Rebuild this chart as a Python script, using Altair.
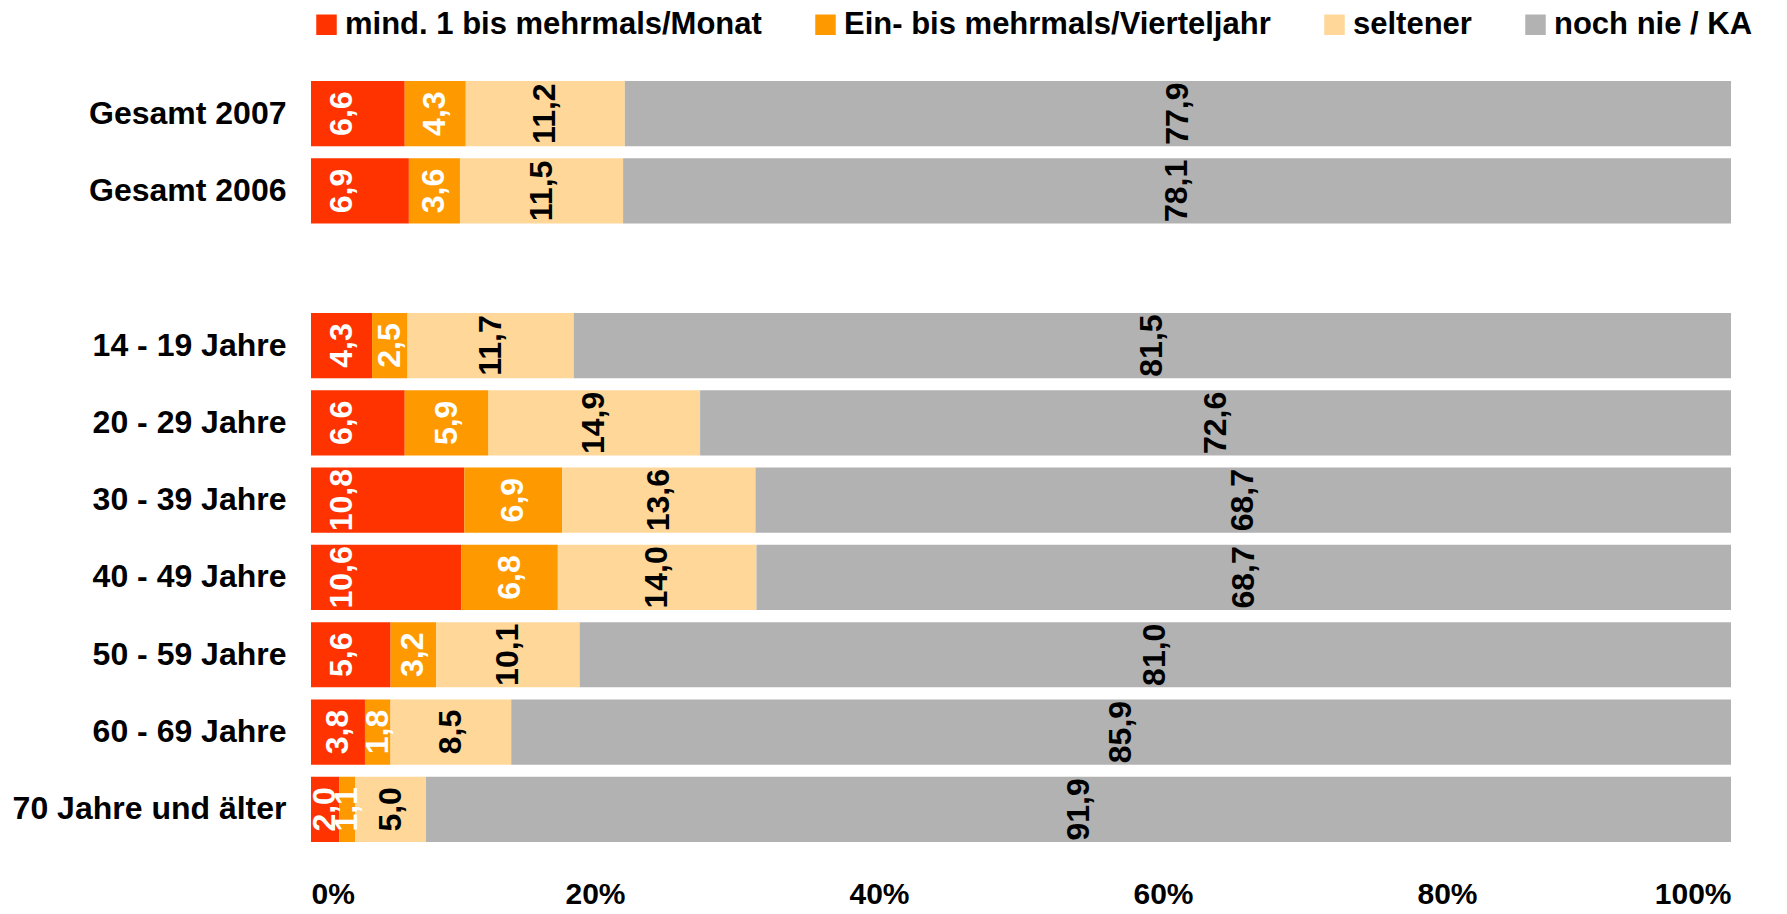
import altair as alt
import pandas as pd

categories = ["Gesamt 2007", "Gesamt 2006", " ", "14 - 19 Jahre", "20 - 29 Jahre",
              "30 - 39 Jahre", "40 - 49 Jahre", "50 - 59 Jahre", "60 - 69 Jahre",
              "70 Jahre und älter"]
rows = ["Gesamt 2007", "Gesamt 2006", "14 - 19 Jahre", "20 - 29 Jahre",
        "30 - 39 Jahre", "40 - 49 Jahre", "50 - 59 Jahre", "60 - 69 Jahre",
        "70 Jahre und älter"]
series = ["mind. 1 bis mehrmals/Monat", "Ein- bis mehrmals/Vierteljahr",
          "seltener", "noch nie / KA"]
monat = [6.6, 6.9, 4.3, 6.6, 10.8, 10.6, 5.6, 3.8, 2.0]
viertel = [4.3, 3.6, 2.5, 5.9, 6.9, 6.8, 3.2, 1.8, 1.1]
seltener = [11.2, 11.5, 11.7, 14.9, 13.6, 14.0, 10.1, 8.5, 5.0]
nie = [77.9, 78.1, 81.5, 72.6, 68.7, 68.7, 81.0, 85.9, 91.9]
colors = ["#FF3300", "#FF9900", "#FFD899", "#B2B2B2"]
text_colors = ["white", "white", "black", "black"]

recs = []
for i, r in enumerate(rows):
    for j, vals in enumerate([monat, viertel, seltener, nie]):
        recs.append({"cat": r, "series": series[j], "ord": j, "v": vals[i],
                     "tc": text_colors[j]})
df = pd.DataFrame(recs)

FONT = "Liberation Sans, Arial, sans-serif"

base = alt.Chart(df).transform_joinaggregate(
    total="sum(v)", groupby=["cat"]
).transform_stack(
    stack="v", groupby=["cat"], sort=[alt.SortField("ord", order="ascending")],
    as_=["s0", "s1"]
).transform_calculate(
    x0="datum.s0 / datum.total * 100",
    x1="datum.s1 / datum.total * 100",
    mid="(datum.s0 + datum.s1) / 2 / datum.total * 100",
    lab="replace(format(datum.v, '.1f'), '.', ',')"
).transform_calculate(
    # first series labels sit at the inside base of the bar (as in the original)
    lx="datum.ord == 0 ? min(datum.mid, 2.2) : datum.mid"
)

yenc = alt.Y("cat:N", scale=alt.Scale(domain=categories, paddingInner=0.156,
                                      paddingOuter=0.078),
             axis=alt.Axis(title=None, ticks=False, domain=False, labelPadding=25,
                           labelFont=FONT, labelFontSize=32, labelFontWeight="bold",
                           labelColor="black", labelLimit=400))

bars = base.mark_bar().encode(
    x=alt.X("x0:Q", scale=alt.Scale(domain=[0, 100], nice=False),
            axis=alt.Axis(title=None, values=[0, 20, 40, 60, 80, 100], ticks=False,
                          domain=False, grid=False, labelExpr="datum.value + '%'",
                          labelFont=FONT, labelFontSize=30, labelFontWeight="bold",
                          labelColor="black", labelPadding=31)),
    x2="x1:Q",
    y=yenc,
    color=alt.Color("series:N", scale=alt.Scale(domain=series, range=colors),
                    legend=alt.Legend(title=None, orient="none", direction="horizontal",
                                      legendX=0, legendY=-66, padding=0,
                                      symbolType="square",
                                      symbolSize=420, symbolStrokeWidth=0,
                                      labelFont=FONT, labelFontSize=31,
                                      labelFontWeight="bold", labelColor="black",
                                      labelOffset=3, columnPadding=48,
                                      labelLimit=700)),
    order=alt.Order("ord:Q")
)

texts = base.mark_text(angle=270, align="center", baseline="middle",
                       font=FONT, fontSize=32, fontWeight="bold").encode(
    x=alt.X("lx:Q"),
    y=alt.Y("cat:N", scale=alt.Scale(domain=categories)),
    text="lab:N",
    color=alt.Color("tc:N", scale=None)
)

chart = alt.layer(bars, texts).properties(
    width=1420, height=773,
    padding={"left": 303, "top": 67, "right": 48, "bottom": 58},
    autosize=alt.AutoSizeParams(type="none")
).configure_view(stroke=None)

chart.save("out.html", embed_options={"renderer": "svg", "actions": False})
